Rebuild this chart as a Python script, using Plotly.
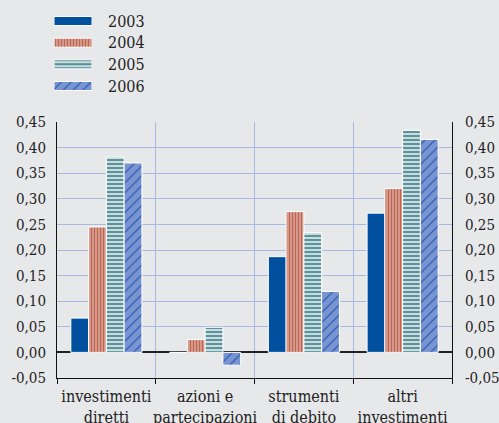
import plotly.graph_objects as go

# Data
categories = ["investimenti<br>diretti", "azioni e<br>partecipazioni",
              "strumenti<br>di debito", "altri<br>investimenti"]
years = ["2003", "2004", "2005", "2006"]
v2003 = [0.067, 0.0, 0.187, 0.272]
v2004 = [0.245, 0.025, 0.275, 0.320]
v2005 = [0.382, 0.049, 0.234, 0.434]
v2006 = [0.370, -0.025, 0.119, 0.416]
y_ticks = [-0.05, 0.0, 0.05, 0.10, 0.15, 0.20, 0.25, 0.30, 0.35, 0.40, 0.45]
y_tick_text = [f"{t:.2f}".replace(".", ",") for t in y_ticks]

series = [v2003, v2004, v2005, v2006]

# Fill styles per year
styles = [
    dict(color="#00509f", shape="", fg="#00509f", size=6, solidity=0.3),
    dict(color="#dca494", shape="|", fg="#bd6555", size=3, solidity=0.45),
    dict(color="#c9dbdc", shape="-", fg="#5b939c", size=4, solidity=0.5),
    dict(color="#7a94d0", shape="/", fg="#1652b4", size=7, solidity=0.15),
]

BG = "#e7e8ea"
GRID = "#a9b7e2"
FONT = "DejaVu Serif Condensed, DejaVu Serif"
FS = 16
FS_Y = 15
TXT = "#222222"


def marker_for(st):
    return dict(
        color=st["color"],
        line=dict(color="white", width=1),
        pattern=dict(shape=st["shape"], fgcolor=st["fg"], bgcolor=st["color"],
                     size=st["size"], solidity=st["solidity"], fillmode="replace"),
    )


fig = go.Figure()

for yr, vals, st in zip(years, series, styles):
    fig.add_trace(go.Bar(
        x=categories, y=vals, name=yr, marker=marker_for(st),
        showlegend=False, xaxis="x", yaxis="y",
    ))

# Legend swatches: one horizontal bar per year on a small axis pair
for yr, st in zip(years, styles):
    fig.add_trace(go.Bar(
        y=[yr], x=[1], orientation="h", width=0.42, offsetgroup="key",
        marker=marker_for(st), showlegend=False,
        xaxis="x2", yaxis="y2", hoverinfo="skip",
    ))

# Empty trace so the right-hand value axis is drawn
fig.add_trace(go.Scatter(x=[], y=[], xaxis="x", yaxis="y3", showlegend=False))

W, H = 499, 423
ml, mr, mt, mb = 50, 47, 5, 45
pw, ph = W - ml - mr, H - mt - mb
plot_bottom = H - mb


def py(pix):
    return (plot_bottom - pix) / ph


def px(pix):
    return (pix - ml) / pw


main_top = py(122)
x_left = px(57)

yaxis_common = dict(
    range=[-0.05, 0.45], tickvals=y_ticks, ticktext=y_tick_text,
    ticks="", showline=True, linecolor="#111111", linewidth=1,
    tickfont=dict(family=FONT, size=FS_Y, color=TXT),
    domain=[0, main_top], automargin=False,
)

fig.update_layout(
    width=W, height=H,
    margin=dict(l=ml, r=mr, t=mt, b=mb),
    paper_bgcolor=BG, plot_bgcolor=BG,
    template="none",
    barmode="group", bargap=0.28, bargroupgap=0,
    font=dict(family=FONT, size=FS, color=TXT),
    xaxis=dict(
        domain=[x_left, 1], type="category", tickson="boundaries",
        ticks="outside", ticklen=5, tickcolor="#111111", tickangle=0,
        ticklabelstandoff=4,
        showgrid=True, gridcolor=GRID, gridwidth=1,
        showline=True, linecolor="#111111", linewidth=1,
        tickfont=dict(family=FONT, size=FS, color=TXT),
        anchor="y", automargin=False,
    ),
    yaxis=dict(
        **yaxis_common, side="left", anchor="x", ticklabelstandoff=7,
        showgrid=True, gridcolor=GRID, gridwidth=1,
        zeroline=True, zerolinecolor="#222222", zerolinewidth=1.5,
    ),
    yaxis3=dict(
        **yaxis_common, side="right", anchor="x", overlaying="y",
        ticklabelstandoff=9, showgrid=False, zeroline=False,
    ),
    xaxis2=dict(
        domain=[px(54), px(92)], range=[0, 1], anchor="y2",
        visible=False, fixedrange=True,
    ),
    yaxis2=dict(
        domain=[py(96.8), py(10.2)], type="category", autorange="reversed",
        anchor="x2", side="right", showgrid=False, showline=False, zeroline=False,
        ticks="", ticklabelstandoff=15, automargin=False,
        tickfont=dict(family=FONT, size=FS, color=TXT),
    ),
)

fig.write_html("out.html")
